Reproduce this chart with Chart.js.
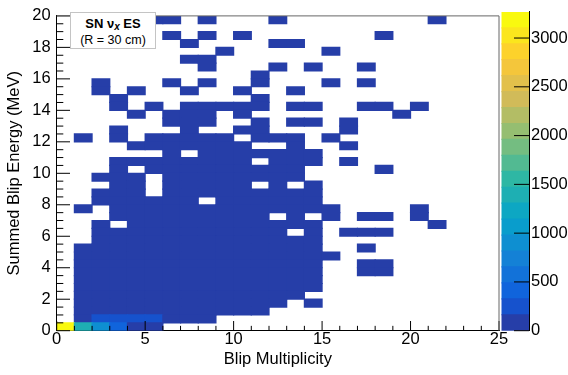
<!DOCTYPE html>
<html>
<head>
<meta charset="utf-8">
<script src="https://cdn.jsdelivr.net/npm/chart.js@4.4.1/dist/chart.umd.min.js"></script>
<style>
  html, body { margin: 0; padding: 0; background: #fff; }
  #wrap { position: relative; width: 568px; height: 375px; overflow: hidden; }
  #main { position: absolute; left: 0; top: 0; }
  #zbar { position: absolute; left: 501px; top: 0; }
  #label {
    position: absolute; left: 70px; top: 12px; width: 84px; height: 35px;
    border: 1px solid #c4c4c4; background: #fff; color: #000; text-align: center;
    font-family: "Liberation Sans", Arial, Helvetica, sans-serif;
  }
  #label .l1 { padding-top: 2px; line-height: 17px; font-size: 13px; font-weight: bold; }
  #label .l1 sub { font-size: 10px; line-height: 0; vertical-align: -2px; font-style: italic; }
  #label .l2 { line-height: 17px; font-size: 12.5px; }
</style>
</head>
<body>
<div id="wrap">
  <canvas id="main" width="568" height="375"></canvas>
  <canvas id="zbar" width="67" height="375"></canvas>
  <div id="label"><div class="l1">SN &nu;<sub>x</sub> ES</div><div class="l2">(R = 30 cm)</div></div>
</div>
<script>
// --- histogram data ---
const multBinWidth = 1;      // Blip Multiplicity, bins 0..25
const energyBinWidth = 0.5;  // Summed Blip Energy, bins 0..20 MeV

const xTickLabels = [0, 5, 10, 15, 20, 25];
const yTickLabels = [0, 2, 4, 6, 8, 10, 12, 14, 16, 18, 20];
const zTickLabels = [0, 500, 1000, 1500, 2000, 2500, 3000];
const zMax = 3268;
const nContours = 20;

// filled bins, top row (19.5-20 MeV) first, one char per multiplicity bin 0..24
const occupancy = [
  ".....##.#...#........#...",
  ".........................",
  "......#.#.#.......#......",
  ".......#....##...........",
  ".........#.....#.........",
  ".......##................",
  "........#...#.#..#.......",
  "...........#.............",
  "..#...#.#..#...#.#.......",
  "..#.#..#..#..#...........",
  "...#.......#.............",
  "...#.#.#####.##..##.#....",
  "....#.###.#........#.....",
  "......###..#.##.#........",
  "...#...#..##....#........",
  ".#.#.#####.###.#.........",
  "....#######..#..#........",
  "......#.#######..........",
  "...########.###.#........",
  "...#.#########....#......",
  "..###.########...........",
  "...##.#####.#.#..........",
  "..###.#########..........",
  "..######.######..........",
  ".#.#############....#....",
  "...#########.#.#.##.#....",
  "..#.###########......#...",
  "..###########.#.###......",
  "..#############..........",
  ".##############..#.......",
  ".###############.........",
  ".##############..##......",
  ".##############..##......",
  ".##############..........",
  ".##############..........",
  ".#############...........",
  ".############.#..........",
  ".###########.............",
  ".########................",
  "######..................."
];
// bins below the first contour (< ~160 entries)
const sparseCount = 30;
// bins with higher counts: [multiplicity bin, energy bin, entries]
const brightBins = [
  [0, 0, 3268], [1, 0, 1450], [2, 0, 900], [3, 0, 420], [4, 0, 110], [5, 0, 90],
  [2, 1, 250], [3, 1, 240], [4, 1, 230], [5, 1, 220]
];

// --- ROOT kBird palette ---
const birdStops = [0.0, 0.125, 0.25, 0.375, 0.5, 0.625, 0.75, 0.875, 1.0];
const birdR = [0.2082, 0.0592, 0.0780, 0.0232, 0.1802, 0.5301, 0.8186, 0.9956, 0.9764];
const birdG = [0.1664, 0.3599, 0.5041, 0.6419, 0.7178, 0.7492, 0.7328, 0.7862, 0.9832];
const birdB = [0.5293, 0.8684, 0.8385, 0.7914, 0.6425, 0.4662, 0.3499, 0.1968, 0.0539];

function makePalette(n) {
  const cols = [];
  for (let g = 1; g < birdStops.length; g++) {
    const nGrad = Math.floor(n * birdStops[g]) - Math.floor(n * birdStops[g - 1]);
    for (let c = 0; c < nGrad; c++) {
      const f = c / nGrad;
      const r = birdR[g - 1] + (birdR[g] - birdR[g - 1]) * f;
      const gg = birdG[g - 1] + (birdG[g] - birdG[g - 1]) * f;
      const b = birdB[g - 1] + (birdB[g] - birdB[g - 1]) * f;
      cols.push('rgb(' + Math.round(r * 255) + ',' + Math.round(gg * 255) + ',' + Math.round(b * 255) + ')');
    }
  }
  return cols;
}
const palette = makePalette(255);

function contourColour(level) {
  return palette[Math.floor((level + 0.99) * palette.length / nContours)];
}
function binColour(v) {
  const level = Math.min(nContours - 1, Math.floor(0.01 + v * nContours / zMax));
  return contourColour(level);
}

// --- build the cells ---
const cells = [];
occupancy.forEach((rowStr, i) => {
  const row = occupancy.length - 1 - i;
  rowStr.split('').forEach((ch, col) => {
    if (ch !== '#') return;
    cells.push({
      x: (col + 0.5) * multBinWidth,
      y: [row * energyBinWidth, (row + 1) * energyBinWidth],
      v: sparseCount
    });
  });
});
brightBins.forEach(([col, row, count]) => {
  const cell = cells.find(c => c.x === (col + 0.5) * multBinWidth && c.y[0] === row * energyBinWidth);
  if (cell) cell.v = count;
});

const font = { family: "'Liberation Sans', Arial, Helvetica, sans-serif", size: 16.5 };
const plainNumber = v => String(v);

// ROOT style ticks, drawn inside the frame
const insideTicks = {
  id: 'insideTicks',
  afterDraw(chart) {
    const { ctx, chartArea: area, scales: { x, y } } = chart;
    ctx.save();
    ctx.strokeStyle = '#000';
    ctx.lineWidth = 1;
    ctx.beginPath();
    for (let m = x.min; m <= x.max; m += multBinWidth) {
      const px = x.getPixelForValue(m);
      const len = m % 5 === 0 ? 9.7 : 4.85;
      ctx.moveTo(px, area.bottom);
      ctx.lineTo(px, area.bottom - len);
    }
    for (let e = y.min; e <= y.max; e += energyBinWidth) {
      const py = y.getPixelForValue(e);
      const len = e % 2 === 0 ? 13.3 : 6.6;
      ctx.moveTo(area.left, py);
      ctx.lineTo(area.left + len, py);
    }
    ctx.stroke();
    ctx.strokeStyle = '#666';
    ctx.beginPath();
    ctx.moveTo(area.left, area.top);
    ctx.lineTo(area.right, area.top);
    ctx.lineTo(area.right, area.bottom);
    ctx.stroke();
    ctx.restore();
  }
};

new Chart(document.getElementById('main'), {
  type: 'bar',
  data: {
    datasets: [{
      data: cells,
      backgroundColor: c => binColour(c.raw ? c.raw.v : 0),
      borderWidth: 0,
      inflateAmount: 0.6,
      barPercentage: 1,
      categoryPercentage: 1
    }]
  },
  options: {
    responsive: false,
    animation: false,
    events: [],
    devicePixelRatio: 1,
    layout: { padding: { top: 7.5, right: 69, left: 0, bottom: 0 } },
    plugins: { legend: { display: false }, tooltip: { enabled: false } },
    scales: {
      x: {
        type: 'linear', min: 0, max: 25, offset: false,
        grid: { display: false, drawTicks: false },
        border: { display: true, color: '#000', width: 1 },
        ticks: { font, color: '#000', padding: -1.5, maxRotation: 0, autoSkip: false, callback: plainNumber },
        afterBuildTicks: s => { s.ticks = xTickLabels.map(v => ({ value: v })); },
        title: { display: true, text: 'Blip Multiplicity', font, color: '#000', padding: { top: 0, bottom: 6 } },
        afterFit: s => { s.height = 44.3; }
      },
      y: {
        type: 'linear', min: 0, max: 20,
        grid: { display: false, drawTicks: false },
        border: { display: true, color: '#000', width: 1 },
        ticks: { font, color: '#000', padding: 6, autoSkip: false, callback: plainNumber },
        afterBuildTicks: s => { s.ticks = yTickLabels.map(v => ({ value: v })); },
        title: { display: true, text: 'Summed Blip Energy (MeV)', font, color: '#000', padding: { top: 4.6, bottom: 0 } },
        afterFit: s => { s.width = 56.7; }
      }
    }
  },
  plugins: [insideTicks]
});

// --- colour scale ---
const contourLevels = [];
for (let i = 0; i < nContours; i++) contourLevels.push(i);

const paletteTicks = {
  id: 'paletteTicks',
  afterDraw(chart) {
    const { ctx, chartArea: area, scales: { y } } = chart;
    ctx.save();
    ctx.strokeStyle = '#000';
    ctx.lineWidth = 1;
    ctx.beginPath();
    zTickLabels.forEach(v => {
      const py = y.getPixelForValue(v);
      ctx.moveTo(area.right, py);
      ctx.lineTo(area.right - 15, py);
    });
    ctx.stroke();
    ctx.restore();
  }
};

new Chart(document.getElementById('zbar'), {
  type: 'bar',
  data: {
    labels: ['z'],
    datasets: contourLevels.map(level => ({
      data: [zMax / nContours],
      backgroundColor: contourColour(level),
      borderWidth: 0,
      inflateAmount: 0.6,
      barPercentage: 1,
      categoryPercentage: 1
    }))
  },
  options: {
    responsive: false,
    animation: false,
    events: [],
    devicePixelRatio: 1,
    layout: { padding: { top: 7.5, bottom: 44.3, left: 0.5, right: 0 } },
    plugins: { legend: { display: false }, tooltip: { enabled: false } },
    scales: {
      x: { stacked: true, display: false },
      y: {
        stacked: true, position: 'right', min: 0, max: zMax,
        grid: { display: false, drawTicks: false },
        border: { display: true, color: '#000', width: 1 },
        ticks: { font, color: '#000', padding: 2, autoSkip: false, callback: plainNumber },
        afterBuildTicks: s => { s.ticks = zTickLabels.map(v => ({ value: v })); },
        afterFit: s => { s.width = 39; }
      }
    }
  },
  plugins: [paletteTicks]
});
</script>
</body>
</html>
